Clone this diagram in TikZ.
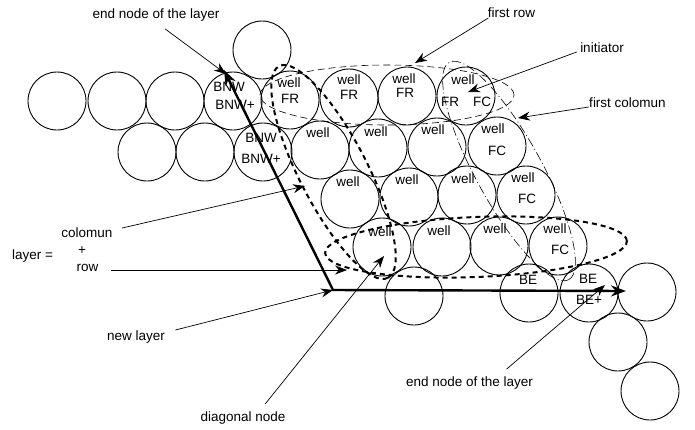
\documentclass[tikz,border=0pt]{standalone}
\usepackage{fontspec}
\setmainfont{Liberation Sans}
\usetikzlibrary{arrows.meta}
\begin{document}
\begin{tikzpicture}[x=1pt,y=1pt,
  font=\fontsize{13.5}{15}\selectfont,
  ball/.style={draw,circle,line width=0.9pt,minimum size=58pt,inner sep=0pt},
  txt/.style={inner sep=0pt},
  pointer/.style={line width=0.7pt,-{Stealth[length=12pt,width=9pt]}},
  layerline/.style={line width=2.4pt,{Stealth[length=15pt,width=11pt]}-{Stealth[length=15pt,width=11pt]}},
  bolddash/.style={line width=2pt,dash pattern=on 5pt off 4pt},
  finedash/.style={line width=0.6pt,dash pattern=on 7pt off 4pt},
  dotdash/.style={line width=0.6pt,dash pattern=on 9pt off 3pt on 1pt off 3pt}]
  \useasboundingbox (0,0) rectangle (695,-429);
  % the wells
  \foreach \n/\x/\y in {c0/262/50,
      a1/57/101, a2/117/101, a3/175/101, a4/233/101, a5/290/100, a6/349/98, a7/407/96, a8/466/96,
      b1/147/152, b2/205/152, b3/263/152, b4/320/150, b5/378/148, b6/437/147, b7/497/146,
      c1/350/199, c2/409/197, c3/467/195, c4/526/195,
      d1/382/247, d2/442/247, d3/499/246, d4/558/246,
      e1/414/296, e2/529/293, e3/589/293, e4/647/292,
      f1/618/342, g1/650/391}
    \node[ball] (\n) at (\x,-\y) {};
  % texts in the wells
  \foreach \c/\dx/\dy/\t [count=\k] in {a4/-4/14/BNW, a4/2/-4/BNW+, b3/-2/14/BNW, b3/-2/-7/BNW+,
      a5/-1/17/well, a5/0/1/FR, a6/0/18/well, a6/0/3/FR, a7/-3/17/well, a7/-2/3/FR,
      a8/-3/16/well, a8/-16/-6/FR, a8/16/-6/FC,
      b4/-2/17/well, b5/-2/16/well, b6/-4/17/well, b7/-4/17/well, b7/0/-5/FC,
      c1/-2/17/well, c2/-2/17/well, c3/-4/16/well, c4/-3/17/well, c4/1/-4/FC,
      d1/-2/15/well, d2/-3/16/well, d3/-4/17/well, d4/-3/17/well, d4/2/-4/FC,
      e2/-1/13/BE, e3/-1/14/BE, e3/0/-7/BE+}
    \node[txt] (t\k) at ([xshift=\dx,yshift=\dy]\c) {\t};
  % row and colomun loops
  \draw[finedash] (387,-95) ellipse [x radius=127, y radius=30];
  \draw[dotdash, rotate around={-61.2:(509,-171)}] (509,-171) ellipse [x radius=124, y radius=33];
  \draw[bolddash, rotate around={-62.8:(333.5,-172)}] (333.5,-172) ellipse [x radius=119, y radius=34];
  \draw[bolddash, rotate around={2.3:(476,-247)}] (476,-247) ellipse [x radius=151, y radius=30];
  % the layer
  \coordinate (topend) at (224,-70);
  \coordinate (turn) at (333,-290);
  \coordinate (rightend) at (626,-291);
  \draw[layerline] (topend) -- (turn) -- (rightend);
  % labels
  \node (endtop) at (156,-15) {end node of the layer};
  \node (firstrow) at (511.5,-13) {first row};
  \node (init) at (602,-48) {initiator};
  \node (firstcol) at (627.5,-103) {first colomun};
  \node (colo) at (87,-233) {colomun};
  \node (plus) at (82,-251) {+};
  \node (rowlbl) at (87.5,-268) {row};
  \node (layer) at (32.5,-256) {layer =};
  \node (newlayer) at (136,-337) {new layer};
  \node (diag) at (243,-418) {diagonal node};
  \node (endbot) at (469.5,-383) {end node of the layer};
  % pointers
  \coordinate (tipend) at (226,-74);
  \coordinate (tiprow1) at (415,-63);
  \coordinate (tipinit) at (468,-92);
  \coordinate (tipcol1) at (518,-118);
  \coordinate (tipcolo) at (305,-186);
  \coordinate (tiprow) at (347,-270);
  \coordinate (tipdiag) at (384,-256);
  \coordinate (tipbe) at (605,-285);
  \draw[pointer] ([xshift=9,yshift=-4]endtop.south) -- (tipend);
  \draw[pointer] ([xshift=4,yshift=-5]firstrow.west) -- (tiprow1);
  \draw[pointer] ([yshift=-4]init.west) -- (tipinit);
  \draw[pointer] ([xshift=3,yshift=-4]firstcol.west) -- (tipcol1);
  \draw[pointer] ([xshift=6,yshift=5]colo.east) -- (tipcolo);
  \draw[pointer] ([xshift=9,yshift=-2]rowlbl.east) -- (tiprow);
  \draw[pointer] ([xshift=7,yshift=7]newlayer.east) -- (turn);
  \draw[pointer] ([xshift=22,yshift=4]diag.north) -- (tipdiag);
  \draw[pointer] ([xshift=37,yshift=4]endbot.north) -- (tipbe);
\end{tikzpicture}
\end{document}
